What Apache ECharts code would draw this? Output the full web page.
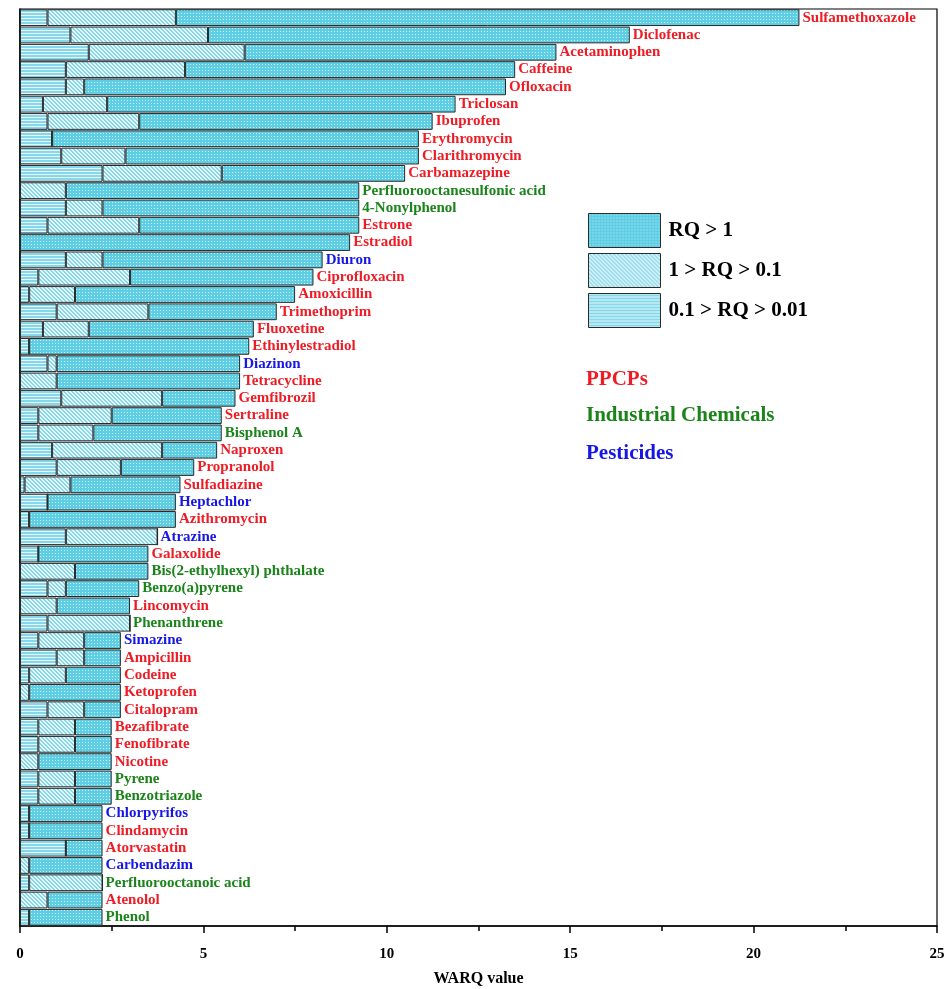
<!DOCTYPE html>
<html>
<head>
<meta charset="utf-8">
<script src="https://cdn.jsdelivr.net/npm/echarts@6/dist/echarts.min.js"></script>
<style>html,body{margin:0;padding:0;background:#fff}#c{width:946px;height:989px}</style>
</head>
<body>
<div id="c"></div>
<script>
const categories = ['Sulfamethoxazole','Diclofenac','Acetaminophen','Caffeine','Ofloxacin','Triclosan','Ibuprofen','Erythromycin','Clarithromycin','Carbamazepine',
'Perfluorooctanesulfonic acid','4-Nonylphenol','Estrone','Estradiol','Diuron','Ciprofloxacin','Amoxicillin','Trimethoprim','Fluoxetine','Ethinylestradiol',
'Diazinon','Tetracycline','Gemfibrozil','Sertraline','Bisphenol A','Naproxen','Propranolol','Sulfadiazine','Heptachlor','Azithromycin',
'Atrazine','Galaxolide','Bis(2-ethylhexyl) phthalate','Benzo(a)pyrene','Lincomycin','Phenanthrene','Simazine','Ampicillin','Codeine','Ketoprofen',
'Citalopram','Bezafibrate','Fenofibrate','Nicotine','Pyrene','Benzotriazole','Chlorpyrifos','Clindamycin','Atorvastatin','Carbendazim',
'Perfluorooctanoic acid','Atenolol','Phenol'];
// P = PPCPs, I = Industrial Chemicals, B = Pesticides
const groups = ['P','P','P','P','P','P','P','P','P','P',
'I','I','P','P','B','P','P','P','P','P',
'B','P','P','P','I','P','P','P','B','P',
'B','P','I','I','P','I','B','P','P','P',
'P','P','P','P','I','I','B','P','P','B',
'I','P','I'];
// 0.1 > RQ > 0.01
const lowValues = [0.75,1.375,1.875,1.25,1.25,0.625,0.75,0.875,1.125,2.25,
0,1.25,0.75,0,1.25,0.5,0.25,1.0,0.625,0.25,
0.75,0,1.125,0.5,0.5,0.875,1.0,0.125,0.75,0.25,
1.25,0.5,0,0.75,0,0.75,0.5,1.0,0.25,0,
0.75,0.5,0.5,0,0.5,0.5,0.25,0.25,1.25,0,
0.25,0,0.25];
// 1 > RQ > 0.1
const midValues = [3.5,3.75,4.25,3.25,0.5,1.75,2.5,0,1.75,3.25,
1.25,1.0,2.5,0,1.0,2.5,1.25,2.5,1.25,0,
0.25,1.0,2.75,2.0,1.5,3.0,1.75,1.25,0,0,
2.5,0,1.5,0.5,1.0,2.25,1.25,0.75,1.0,0.25,
1.0,1.0,1.0,0.5,1.0,1.0,0,0,0,0.25,
2.0,0.75,0];
// RQ > 1
const highValues = [17.0,11.5,8.5,9.0,11.5,9.5,8.0,10.0,8.0,5.0,
8.0,7.0,6.0,9.0,6.0,5.0,6.0,3.5,4.5,6.0,
5.0,5.0,2.0,3.0,3.5,1.5,2.0,3.0,3.5,4.0,
0,3.0,2.0,2.0,2.0,0,1.0,1.0,1.5,2.5,
1.0,1.0,1.0,2.0,1.0,1.0,2.0,2.0,1.0,2.0,
0,1.5,2.0];
const xTicks = [0,5,10,15,20,25];
const seriesNames = ['0.1 > RQ > 0.01','1 > RQ > 0.1','RQ > 1'];
const groupNames = {P:'PPCPs', I:'Industrial Chemicals', B:'Pesticides'};
const groupColors = {P:'#ee1c25', I:'#1a841a', B:'#1616e6'};

function makePattern(w,h,fn){const c=document.createElement('canvas');c.width=w;c.height=h;const g=c.getContext('2d');fn(g);return {image:c,repeat:'repeat'};}
const patH = makePattern(4,3,g=>{g.fillStyle='#e8f8fc';g.fillRect(0,0,4,3);g.fillStyle='#84d8ea';g.fillRect(0,1,4,2);});
const patD = makePattern(4,4,g=>{for(let y=0;y<4;y++)for(let x=0;x<4;x++){g.fillStyle=((x-y+8)%4<2)?'#86d8ea':'#e6f7fb';g.fillRect(x,y,1,1);}});
const patX = makePattern(3,3,g=>{g.fillStyle='#5ecee5';g.fillRect(0,0,3,3);g.fillStyle='#cdf1f8';g.fillRect(1,1,1,1);});

const serif = '"Liberation Serif","DejaVu Serif",serif';
const totals = categories.map((c,i)=>lowValues[i]+midValues[i]+highValues[i]);

function barSeries(name,data,pat){
  return {name:name,type:'bar',stack:'s',data:data,barCategoryGap:'3%',
    itemStyle:{color:pat,borderColor:'#2a2a2a',borderWidth:1},
    emphasis:{disabled:true},silent:true};
}

const chart = echarts.init(document.getElementById('c'),null,{renderer:'canvas'});
chart.setOption({
  animation:false,
  backgroundColor:'#fff',
  grid:{left:20,right:9,top:9,bottom:63,show:true,borderColor:'#000',borderWidth:1.2,backgroundColor:'transparent',
    containLabel:false,outerBoundsMode:'none'},
  legend:{
    data:['RQ > 1','1 > RQ > 0.1','0.1 > RQ > 0.01'],
    orient:'vertical',left:583,top:208,itemWidth:72,itemHeight:34,itemGap:5,
    icon:'rect',selectedMode:false,
    itemStyle:{borderColor:'#2a2a2a',borderWidth:1},
    textStyle:{fontFamily:serif,fontWeight:'bold',fontSize:21,color:'#000',padding:[4,0,0,3]}
  },
  xAxis:{type:'value',min:xTicks[0],max:xTicks[xTicks.length-1],interval:5,
    axisLine:{show:true,lineStyle:{color:'#000',width:1.5}},
    axisTick:{show:true,inside:false,length:7,lineStyle:{color:'#000',width:1.5}},
    minorTick:{show:true,splitNumber:2,length:5,lineStyle:{color:'#000',width:1.5}},
    splitLine:{show:false},
    axisLabel:{fontFamily:serif,fontWeight:'bold',fontSize:15,color:'#000',margin:21},
    name:'WARQ value',nameLocation:'middle',nameGap:45,
    nameTextStyle:{fontFamily:serif,fontWeight:'bold',fontSize:16,color:'#000'}
  },
  yAxis:{type:'category',data:categories,inverse:true,
    axisLine:{show:true,lineStyle:{color:'#000',width:1.5}},
    axisTick:{show:false},axisLabel:{show:false},splitLine:{show:false}},
  series:[
    barSeries(seriesNames[0],lowValues,patH),
    barSeries(seriesNames[1],midValues,patD),
    barSeries(seriesNames[2],highValues,patX),
    {type:'scatter',symbolSize:0.1,itemStyle:{color:'rgba(0,0,0,0)',opacity:1},silent:true,
      data:totals.map((t,i)=>({value:[t,i],label:{color:groupColors[groups[i]]}})),
      label:{show:true,position:'right',distance:3,fontFamily:serif,fontWeight:'bold',fontSize:15,
        formatter:p=>categories[p.dataIndex]}}
  ],
  graphic:[
    {type:'text',left:586,top:369,style:{text:groupNames.P,fill:groupColors.P,font:'bold 21px '+serif}},
    {type:'text',left:586,top:405,style:{text:groupNames.I,fill:groupColors.I,font:'bold 21px '+serif}},
    {type:'text',left:586,top:443,style:{text:groupNames.B,fill:groupColors.B,font:'bold 21px '+serif}}
  ]
});
</script>
</body>
</html>
